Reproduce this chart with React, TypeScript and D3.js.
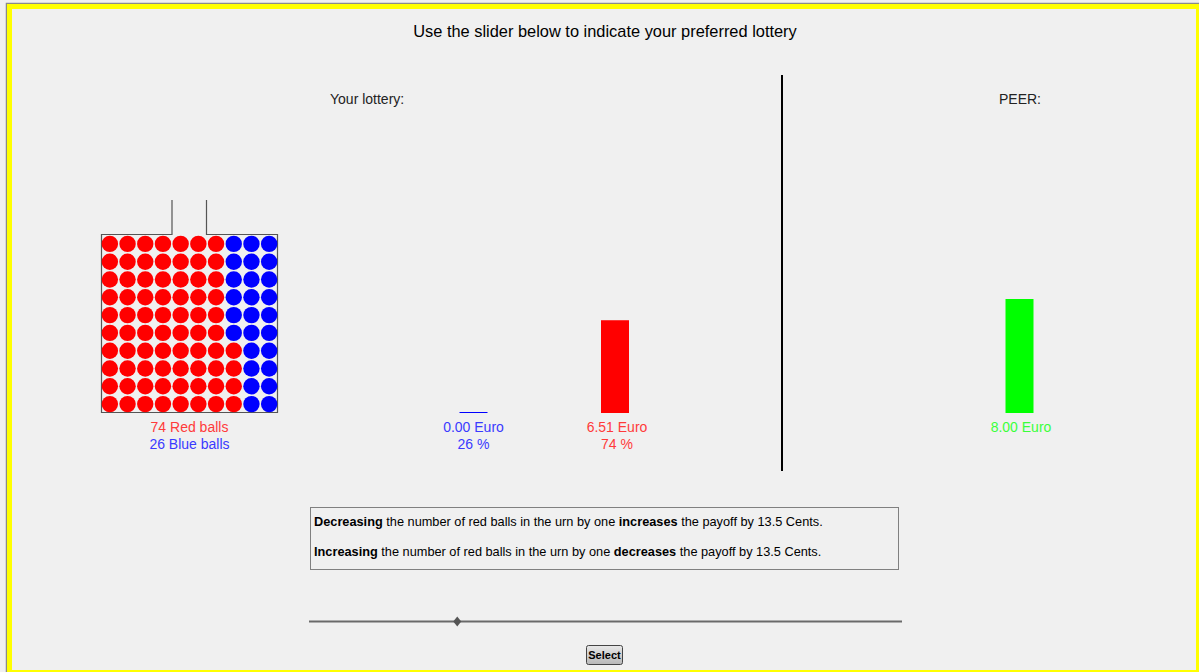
import React from "react";
import * as d3 from "d3";

// urn contents
const ballColors = ["red", "blue"];
const ballCounts = [74, 26];
const ballLabels = ["74 Red balls", "26 Blue balls"];

// own lottery outcomes
const outcomeKeys = ["blue", "red"];
const outcomeValues = [0.0, 6.51];
const outcomeEuro = ["0.00 Euro", "6.51 Euro"];
const outcomePct = ["26 %", "74 %"];
const outcomeFill = ["#0000ff", "#ff0000"];
const outcomeText = ["#3a3aff", "#ff3a3a"];

// peer
const peerValue = 8.0;
const peerLabel = "8.00 Euro";

const sliderValue = 25; // 0..100

const W = 1199;
const H = 672;
const FONT = "'Liberation Sans', Arial, sans-serif";

const App = () => {
  // urn grid
  const cols = d3.range(10);
  const gx = d3.scaleBand<number>().domain(cols).range([101, 278]);
  const gy = d3.scaleBand<number>().domain(cols).range([235, 413]);
  const balls = d3.range(100).map((i) => ({
    col: Math.floor(i / 10),
    row: 9 - (i % 10),
    color: i < ballCounts[0] ? ballColors[0] : ballColors[1],
  }));

  // bars
  const y = d3.scaleLinear().domain([0, 8]).range([413, 299]);
  const bx = d3.scalePoint<string>().domain(outcomeKeys).range([473.5, 615]);
  const peerX = 1019.5;
  const barW = 28;

  const sx = d3.scaleLinear().domain([0, 100]).range([309, 902]);
  const tx = sx(sliderValue);

  const urnPath = "M172,200 L172,234.5 L101.5,234.5 L101.5,412.5 L277.5,412.5 L277.5,234.5 L206.5,234.5 L206.5,200";

  return (
    <svg
      width={W}
      height={H}
      style={{ position: "absolute", left: 0, top: 0, fontFamily: FONT }}
    >
      <rect x={0} y={0} width={W} height={H} fill="#f0f0f0" />
      {/* frame */}
      <path d={`M6.5,${H} L6.5,3.5 L${W},3.5`} fill="none" stroke="#8a8a8a" strokeWidth={1.5} />
      <rect x={9.5} y={6.5} width={1189} height={666} fill="none" stroke="#ffff00" strokeWidth={5} />

      <text x={605} y={37} textAnchor="middle" fontSize={16.4} fill="#000">
        Use the slider below to indicate your preferred lottery
      </text>

      <text x={330} y={104} fontSize={14} fill="#222">Your lottery:</text>
      <text x={1020} y={104} textAnchor="middle" fontSize={14} fill="#222">PEER:</text>

      {/* divider */}
      <line x1={782} x2={782} y1={75} y2={471} stroke="#000" strokeWidth={2} />

      {/* urn */}
      <path d={urnPath} fill="none" stroke="#555" strokeWidth={1.2} />
      {balls.map((b, i) => (
        <circle
          key={i}
          cx={(gx(b.col) as number) + gx.bandwidth() / 2}
          cy={(gy(b.row) as number) + gy.bandwidth() / 2}
          r={8.2}
          fill={b.color}
        />
      ))}
      {ballLabels.map((t, i) => (
        <text key={t} x={189.5} y={432 + i * 17} textAnchor="middle" fontSize={14} fill={outcomeText[i === 0 ? 1 : 0]}>
          {t}
        </text>
      ))}

      {/* own lottery bars */}
      {outcomeKeys.map((k, i) => {
        const cx = bx(k) as number;
        const h = Math.max(1, y(0) - y(outcomeValues[i]));
        return (
          <g key={k}>
            <rect x={cx - barW / 2} y={y(0) - h} width={barW} height={h} fill={outcomeFill[i]} />
            <text x={cx + (i === 0 ? 0 : 2)} y={432} textAnchor="middle" fontSize={14} fill={outcomeText[i]}>{outcomeEuro[i]}</text>
            <text x={cx + (i === 0 ? 0 : 2)} y={449} textAnchor="middle" fontSize={14} fill={outcomeText[i]}>{outcomePct[i]}</text>
          </g>
        );
      })}

      {/* peer bar */}
      <rect x={peerX - barW / 2} y={y(peerValue)} width={barW} height={y(0) - y(peerValue)} fill="#00ff00" />
      <text x={peerX + 1.5} y={432} textAnchor="middle" fontSize={14} fill="#3aff3a">{peerLabel}</text>

      {/* info box */}
      <rect x={310.5} y={507.5} width={588} height={62} fill="none" stroke="#808080" strokeWidth={1} />
      <text x={314} y={526} fontSize={12.75} fill="#000">
        <tspan fontWeight="bold">Decreasing</tspan> the number of red balls in the urn by one{" "}
        <tspan fontWeight="bold">increases</tspan> the payoff by 13.5 Cents.
      </text>
      <text x={314} y={556} fontSize={12.75} fill="#000">
        <tspan fontWeight="bold">Increasing</tspan> the number of red balls in the urn by one{" "}
        <tspan fontWeight="bold">decreases</tspan> the payoff by 13.5 Cents.
      </text>

      {/* slider */}
      <line x1={sx(0)} x2={sx(100)} y1={621.5} y2={621.5} stroke="#6a6a6a" strokeWidth={2} />
      <path
        d={`M${tx},616.5 L${tx + 4},621.5 L${tx},626.5 L${tx - 4},621.5 Z`}
        fill="#555"
      />

      {/* button */}
      <defs>
        <linearGradient id="btn" x1="0" x2="0" y1="0" y2="1">
          <stop offset="0" stopColor="#e8e8e8" />
          <stop offset="1" stopColor="#b8b8b8" />
        </linearGradient>
      </defs>
      <rect x={586.5} y={645.5} width={36} height={19} rx={2} fill="url(#btn)" stroke="#444" strokeWidth={1} />
      <text x={604.5} y={659} textAnchor="middle" fontSize={11} fontWeight="bold" fill="#000">Select</text>
    </svg>
  );
};

export default App;
